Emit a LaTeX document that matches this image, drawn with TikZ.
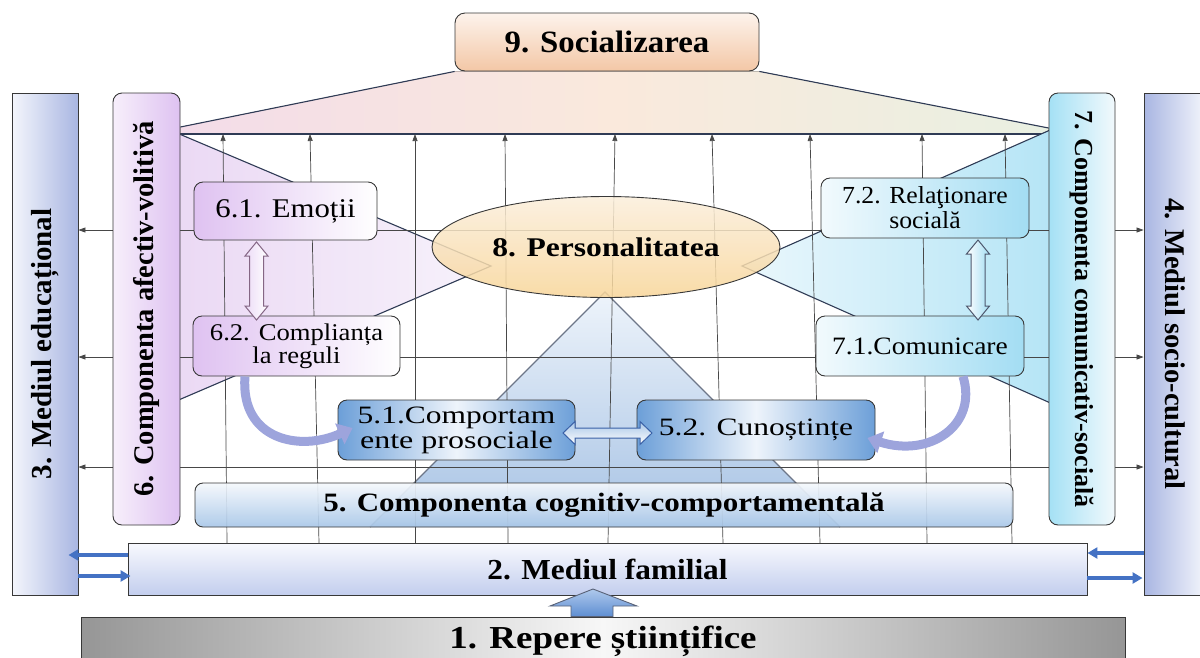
\documentclass[tikz,border=0pt]{standalone}
\usepackage{fontspec}
\setmainfont{Liberation Serif}
\usepackage{graphicx}
\usetikzlibrary{arrows.meta,shapes.geometric,calc}
\pgfdeclarelayer{back}
\pgfdeclarelayer{mid}
\pgfsetlayers{back,mid,main}
\definecolor{c9top}{HTML}{FDF3EC}
\definecolor{c9bot}{HTML}{F3C7A6}
\definecolor{trapL}{HTML}{F3DCE9}
\definecolor{trapM}{HTML}{FAE9DC}
\definecolor{trapR}{HTML}{E9F0E2}
\definecolor{b3L}{HTML}{F4F6FC}
\definecolor{b3R}{HTML}{A9B6E2}
\definecolor{b6L}{HTML}{F7EFFB}
\definecolor{b6R}{HTML}{DEC2F1}
\definecolor{b7L}{HTML}{A5E1F5}
\definecolor{b7R}{HTML}{F2F9FC}
\definecolor{triPL}{HTML}{E9D5F3}
\definecolor{triPR}{HTML}{F7F2FB}
\definecolor{triCL}{HTML}{EAF7FC}
\definecolor{triCR}{HTML}{ADE2F5}
\definecolor{triBT}{HTML}{EEF4FB}
\definecolor{triBB}{HTML}{A6C2E4}
\definecolor{n6L}{HTML}{DFC2F1}
\definecolor{n7L}{HTML}{F2FAFD}
\definecolor{n7R}{HTML}{A3DDF3}
\definecolor{n5E}{HTML}{6C9FD8}
\definecolor{n5M}{HTML}{EEF4FB}
\definecolor{bx5T}{HTML}{F5F8FC}
\definecolor{bx5B}{HTML}{A8C7E8}
\definecolor{bx2T}{HTML}{F8F9FE}
\definecolor{bx2B}{HTML}{C3CEEE}
\definecolor{bx1E}{HTML}{969696}
\definecolor{bx1M}{HTML}{F7F7F7}
\definecolor{ellT}{HTML}{FAEEDB}
\definecolor{ellB}{HTML}{F8D598}
\definecolor{arrblue}{HTML}{4472C4}
\definecolor{curvec}{HTML}{9DA4DC}
\definecolor{edgec}{HTML}{2F3B55}
\definecolor{blkT}{HTML}{AFC9EC}
\definecolor{blkB}{HTML}{5E8ED2}
\newcommand{\TxB}[3]{{\fontsize{#1pt}{#1pt}\selectfont\bfseries\scalebox{#2}[1]{#3}}}
\newcommand{\TxR}[3]{{\fontsize{#1pt}{#1pt}\selectfont\scalebox{#2}[1]{#3}}}
\tikzset{
  outl/.style={draw=black!78, line width=0.9pt, inner sep=0pt},
  sqbox/.style={outl},
  rbox/.style={outl, rounded corners=9pt},
  gline/.style={draw=black!72, line width=0.7pt},
  gup/.style={gline, -{Triangle[length=7pt,width=5pt]}},
  gboth/.style={gline, {Triangle[length=7pt,width=5pt]}-{Triangle[length=7pt,width=5pt]}},
  triedge/.style={draw=edgec, line width=1.1pt},
  bluearr/.style={draw=arrblue, line width=3.6pt, -{Triangle[length=10pt,width=11pt]}},
  curvearr/.style={draw=curvec, line width=9pt, -{Triangle[length=14pt,width=22pt]}},
  hollow/.style={line width=1pt, line join=miter},
}
\begin{document}
\begin{tikzpicture}[x=1pt,y=-1pt]
\useasboundingbox (0,0) rectangle (1200,657);

% ---------- main nodes ----------
\node[sqbox, left color=b3L, right color=b3R, minimum width=66pt, minimum height=502pt] (m3) at (45,344)
  {\rotatebox{90}{\TxB{29}{1}{3. Mediul educațional}}};
\node[sqbox, left color=b3R, right color=b3L, minimum width=62pt, minimum height=502pt] (m4) at (1175,344)
  {\rotatebox{-90}{\TxB{28.5}{1}{4. Mediul socio-cultural}}};
\node[rbox, left color=b6L, right color=b6R, minimum width=67pt, minimum height=432pt] (m6) at (146.5,309)
  {\rotatebox{90}{\TxB{28.5}{1}{6. Componenta afectiv-volitivă}}};
\node[rbox, left color=b7L, right color=b7R, minimum width=66pt, minimum height=432pt] (m7) at (1082,309)
  {\rotatebox{-90}{\TxB{26}{1}{7. Componenta comunicativ-socială}}};
\node[rbox, rounded corners=10pt, top color=c9top, bottom color=c9bot, minimum width=304pt, minimum height=58pt] (m9) at (607,42)
  {\TxB{31}{1.06}{9. Socializarea}};
\node[outl, ellipse, top color=ellT, bottom color=ellB, fill opacity=0.85, text opacity=1, minimum width=348pt, minimum height=101pt] (m8) at (606,247)
  {\TxB{27}{1.17}{8. Personalitatea}};

\node[rbox, left color=n6L, right color=white, minimum width=183pt, minimum height=58pt] (m61) at (285.5,211)
  {\TxR{27}{1.14}{6.1. Emoții}};
\node[rbox, left color=n6L, right color=white, minimum width=207pt, minimum height=60pt, align=center, font=\fontsize{24pt}{23pt}\selectfont] (m62) at (296.5,346)
  {\TxR{24}{1.11}{6.2. Complianța}\\\TxR{24}{1.11}{la reguli}};
\node[rbox, left color=n7L, right color=n7R, minimum width=208pt, minimum height=60pt, align=center, font=\fontsize{24.5pt}{25pt}\selectfont] (m72) at (925,208)
  {\TxR{24.5}{1.05}{7.2. Relaţionare}\\\TxR{24.5}{1.05}{socială}};
\node[rbox, left color=n7L, right color=n7R, minimum width=208pt, minimum height=60pt] (m71) at (920,346)
  {\TxR{25}{1.1}{7.1.Comunicare}};
\node[rbox, left color=n5E, right color=n5E, middle color=n5M, minimum width=237pt, minimum height=60pt, align=center, font=\fontsize{25pt}{25pt}\selectfont] (m51) at (456.5,430)
  {\TxR{25}{1.26}{5.1.Comportam}\\\TxR{25}{1.28}{ente prosociale}};
\node[rbox, left color=n5E, right color=n5E, middle color=n5M, minimum width=238pt, minimum height=60pt] (m52) at (756,430)
  {\TxR{25}{1.26}{5.2. Cunoștințe}};
\node[rbox, rounded corners=8pt, top color=bx5T, bottom color=bx5B, fill opacity=0.92, text opacity=1, minimum width=818pt, minimum height=44pt] (m5) at (604,505)
  {\TxB{26.5}{1.17}{5. Componenta cognitiv-comportamentală}};
\node[sqbox, top color=bx2T, bottom color=bx2B, minimum width=959pt, minimum height=52pt] (m2) at (607.5,569)
  {\TxB{29}{1.08}{2. Mediul familial}};
\node[sqbox, left color=bx1E, right color=bx1E, middle color=bx1M, minimum width=1044pt, minimum height=48pt] (m1) at (603,641)
  {\TxB{32}{1.155}{1. Repere științifice}};

% ---------- background shapes ----------
\begin{pgfonlayer}{back}
  % top trapezoid
  \fill[left color=trapL, right color=trapR, middle color=trapM]
    (m6.east|-0,127) -- (m9.south west) -- (m9.south east) -- (m7.west|-0,128) -- (m7.west|-0,134) -- (m6.east|-0,134) -- cycle;
  \draw[triedge] (m6.east|-0,127) -- (m9.south west);
  \draw[triedge] (m9.south east) -- (m7.west|-0,128);
  \draw[triedge] (m6.east|-0,134) -- (m7.west|-0,134);
  % left (affective) triangle
  \path[left color=triPL, right color=triPR] (125,111) -- (491,266) -- (125,423) -- cycle;
  \draw[triedge] (125,111) -- (491,266) -- (125,423);
  % right (communicative) triangle
  \path[left color=triCL, right color=triCR] (1100,108) -- (742,266) -- (1100,425) -- cycle;
  \draw[triedge] (1100,108) -- (742,266) -- (1100,425);
  % cognitive triangle
  \path[top color=triBT, bottom color=triBB] (605,292) -- (840,527) -- (370,527) -- cycle;
  \draw[triedge, draw=edgec!70] (370,527) -- (605,292) -- (840,527);
\end{pgfonlayer}

% ---------- grid ----------
\begin{pgfonlayer}{mid}
  \foreach \xb/\xt in {227/223, 319/310, 415/415, 508/505, 608/615, 723/712, 820/810, 927/922, 1012/1005}
    \draw[gup] (\xb,543) -- (\xt,134);
  \foreach \yy in {230, 357, 467}
    \draw[gboth] (m3.east|-0,\yy) -- (m4.west|-0,\yy);
\end{pgfonlayer}

% ---------- hollow double arrows ----------
\draw[hollow, draw=black!60!violet!60, fill=white, left color=n6L!60, right color=white]
  (256.5,242) -- (268,256) -- (263.5,256) -- (263.5,306) -- (268,306) -- (256.5,320)
  -- (245,306) -- (249.5,306) -- (249.5,256) -- (245,256) -- cycle;
\draw[hollow, draw=edgec!85, left color=white, right color=n7R]
  (978,240) -- (989.5,254) -- (985,254) -- (985,306) -- (989.5,306) -- (978,320)
  -- (966.5,306) -- (971,306) -- (971,254) -- (966.5,254) -- cycle;
\draw[hollow, draw=arrblue!85!black, top color=n5E!60, bottom color=white]
  (563,433) -- (575,421.5) -- (575,428) -- (640,428) -- (640,421.5) -- (652,433)
  -- (640,444.5) -- (640,438) -- (575,438) -- (575,444.5) -- cycle;

% ---------- curved arrows ----------
\draw[curvearr] (m62.south-|245,0) .. controls (240,440) and (300,452) .. ($(m51.west)+(15,-2)$);
\draw[curvearr] (m71.south-|963,0) .. controls (978,425) and (930,458) .. ($(m52.east)+(-8,8)$);

% ---------- blue arrows ----------
\draw[bluearr] (m2.west|-0,555) -- ($(m3.east|-0,555)+(-10,0)$);
\draw[bluearr] (m3.east|-0,576) -- ($(m2.west|-0,576)+(3,0)$);
\draw[bluearr] (m4.west|-0,553) -- (m2.east|-0,553);
\draw[bluearr] (m2.east|-0,578) -- ($(m4.west|-0,578)+(-1,0)$);

% ---------- block arrow 1 -> 2 ----------
\draw[line width=0.9pt, draw=edgec!80, top color=blkT, bottom color=blkB]
  (m1.north-|571,0) -- (571,606) -- (550,606) -- (593,589) -- (637,606) -- (613,606) -- (m1.north-|613,0) -- cycle;
\end{tikzpicture}
\end{document}
